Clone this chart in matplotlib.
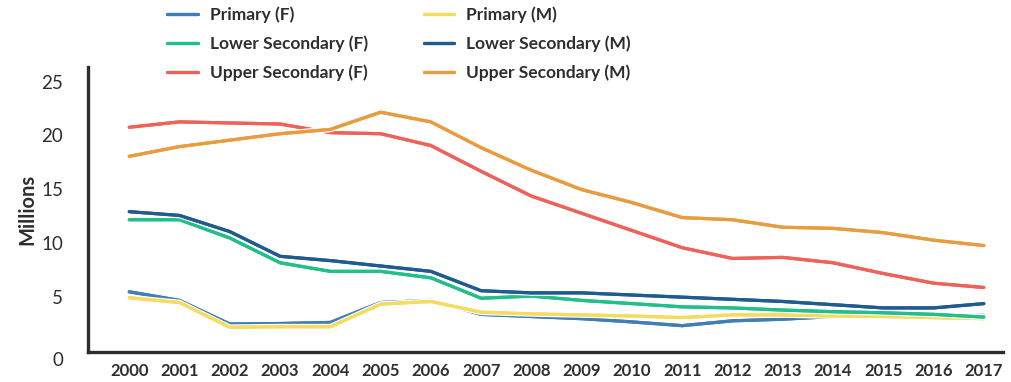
import matplotlib
matplotlib.use("Agg")
import matplotlib.pyplot as plt
import matplotlib.patheffects as pe

years = list(range(2000, 2018))

primary_f = [5.6, 4.8, 2.6, 2.65, 2.75, 4.6, 4.8, 3.5, 3.3, 3.1, 2.8, 2.45, 2.9, 3.05, 3.3, 3.3, 3.35, 3.4]
primary_m = [5.05, 4.6, 2.3, 2.35, 2.35, 4.45, 4.7, 3.7, 3.55, 3.45, 3.35, 3.2, 3.45, 3.45, 3.35, 3.3, 3.2, 3.1]
lower_f = [12.3, 12.3, 10.6, 8.3, 7.5, 7.5, 6.9, 5.0, 5.2, 4.8, 4.5, 4.2, 4.1, 3.9, 3.75, 3.65, 3.5, 3.25]
lower_m = [13.05, 12.7, 11.2, 8.9, 8.5, 8.0, 7.5, 5.7, 5.5, 5.5, 5.3, 5.1, 4.9, 4.7, 4.4, 4.1, 4.1, 4.5]
upper_f = [20.9, 21.4, 21.3, 21.2, 20.4, 20.3, 19.2, 16.8, 14.5, 12.9, 11.3, 9.7, 8.7, 8.8, 8.3, 7.3, 6.4, 6.0]
upper_m = [18.2, 19.1, 19.7, 20.3, 20.7, 22.3, 21.4, 19.0, 16.9, 15.1, 13.9, 12.5, 12.3, 11.6, 11.5, 11.1, 10.4, 9.9]

series = [
    ("Primary (F)", primary_f, "#3f7fb6"),
    ("Primary (M)", primary_m, "#f4dc62"),
    ("Lower Secondary (F)", lower_f, "#22bf88"),
    ("Lower Secondary (M)", lower_m, "#1f5b90"),
    ("Upper Secondary (F)", upper_f, "#ef6259"),
    ("Upper Secondary (M)", upper_m, "#e89c3f"),
]

ink = "#2e2e2e"
plt.rcParams["font.family"] = ["Lato", "DejaVu Sans"]

fig = plt.figure(figsize=(10.12, 3.82), dpi=100)
ax = fig.add_axes([0.087, 0.0785, 0.904, 0.746])

handles = {}
for name, vals, color in series:
    (ln,) = ax.plot(years, vals, color=color, lw=2.3, solid_capstyle="round",
                    solid_joinstyle="round",
                    path_effects=[pe.withStroke(linewidth=4.2, foreground="white"), pe.Normal()])
    handles[name] = ln

ax.set_xlim(1999.18, 2017.38)
ax.set_ylim(0, 26.5)
ax.set_xticks(years)
ax.set_xticklabels([str(y) for y in years], fontsize=12, fontweight="bold", color=ink)
ax.set_yticks([0, 5, 10, 15, 20, 25])
ax.set_yticklabels(["0", "5", "10", "15", "20", "25"], fontsize=13.5, color=ink)
ax.tick_params(axis="both", length=0)
ax.tick_params(axis="x", pad=8)
ax.tick_params(axis="y", pad=18)
for lbl in ax.get_yticklabels():
    lbl.set_verticalalignment("top" if lbl.get_text() == "0" else "center")

for side in ("top", "right"):
    ax.spines[side].set_visible(False)
for side in ("left", "bottom"):
    ax.spines[side].set_color(ink)
    ax.spines[side].set_linewidth(2.4)

ax.set_ylabel("Millions", fontsize=14.5, fontweight="bold", color=ink, labelpad=3)

order = ["Primary (F)", "Lower Secondary (F)", "Upper Secondary (F)",
         "Primary (M)", "Lower Secondary (M)", "Upper Secondary (M)"]
leg = fig.legend([handles[n] for n in order], order, ncol=2, frameon=False,
                 loc="upper left", bbox_to_anchor=(0.150, 1.025),
                 fontsize=12.5, handlelength=1.75, handletextpad=0.7,
                 columnspacing=3.2, labelspacing=0.72)
for t in leg.get_texts():
    t.set_color(ink)
    t.set_fontweight("bold")

fig.savefig("out.png", dpi=100, facecolor="white")
